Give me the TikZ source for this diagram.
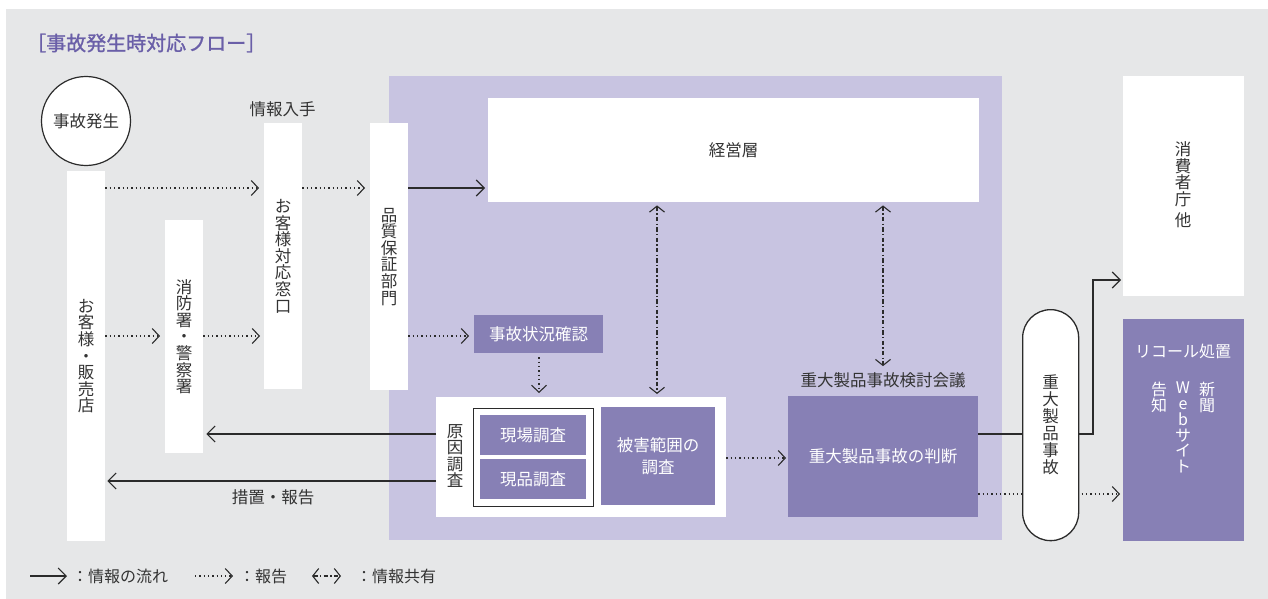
\documentclass[tikz,border=0pt]{standalone}
\usepackage{fontspec}
\setmainfont{Noto Sans CJK JP}
\newfontfamily\ttlfont[FakeBold=1.2]{Noto Sans CJK JP}
\usetikzlibrary{arrows.meta,calc}
\definecolor{bgc}{HTML}{E6E7E8}
\definecolor{lav}{HTML}{C8C4E1}
\definecolor{pur}{HTML}{8780B5}
\definecolor{titlec}{HTML}{6A5FA8}
\definecolor{txt}{HTML}{333333}
\definecolor{ln}{HTML}{2B2B2B}
\tikzset{
  every node/.style={font=\fontsize{16.5}{16.6}\selectfont, text=txt},
  wbox/.style={fill=white, inner sep=0pt, anchor=north west, align=center},
  pbox/.style={fill=pur, inner sep=0pt, anchor=north west, align=center, text=white},
  vtext/.style={align=center, inner sep=0pt},
  flow/.style={draw=ln, line width=1.2pt, -{Straight Barb[length=8pt,width=16pt,line width=1.1pt]}},
  rep/.style={draw=ln, line width=1.3pt, dash pattern=on 1.3pt off 3pt, -{Straight Barb[length=7pt,width=15pt,line width=1.1pt]}},
  share/.style={draw=ln, line width=1.2pt, dash pattern=on 4.5pt off 2.2pt on 1.4pt off 2.2pt, {Straight Barb[length=6pt,width=15pt,line width=1.1pt]}-{Straight Barb[length=6pt,width=15pt,line width=1.1pt]}}
}
\begin{document}
\begin{tikzpicture}[x=1pt,y=-1pt]
\useasboundingbox (0,0) rectangle (1268,599);
\fill[bgc] (6,9) rectangle (1268,599);
\fill[lav] (389,76) rectangle (1002,540);

% title
\node[anchor=west, text=titlec, font=\fontsize{20}{20}\ttlfont, inner sep=0pt] (title) at (26,43) {［事故発生時対応フロー］};

% helper coordinates
\coordinate (ya) at (0,188);
\coordinate (yb) at (0,336);
\coordinate (yc) at (0,434);
\coordinate (yd) at (0,481);
\coordinate (ye) at (0,458);
\coordinate (yf) at (0,494);
\coordinate (yg) at (0,280);
\coordinate (xa) at (539,0);
\coordinate (xb) at (657,0);
\coordinate (xc) at (883,0);
\coordinate (xd) at (1093,0);

% left column
\node[circle, draw=ln, line width=1.2pt, fill=white, minimum size=89pt, inner sep=0pt] (occur) at (86,121) {事故発生};
\node[wbox, minimum width=38pt, minimum height=370pt] (cust) at (67,171) {};
\node[vtext] at (cust.center) {お\\客\\様\\・\\販\\売\\店};
\node[wbox, minimum width=38pt, minimum height=233pt] (fire) at (165,220) {};
\node[vtext] at (fire.center) {消\\防\\署\\・\\警\\察\\署};
\node[wbox, minimum width=38pt, minimum height=266pt] (window) at (264,123) {};
\node[vtext] at (window.center) {お\\客\\様\\対\\応\\窓\\口};
\node[inner sep=0pt] (info) at (282.5,109) {情報入手};
\node[wbox, minimum width=38pt, minimum height=267pt] (qa) at (370,123) {};
\node[vtext] at (qa.center) {品\\質\\保\\証\\部\\門};

% center
\node[wbox, minimum width=491pt, minimum height=104pt] (mgmt) at (488,98) {経営層};
\node[pbox, minimum width=129pt, minimum height=38pt] (situ) at (474,315) {事故状況確認};
\node[wbox, minimum width=290pt, minimum height=120pt] (cont) at (436,397) {};
\node[vtext] (cause) at (455,456) {原\\因\\調\\査};
\node[draw=ln, line width=1.2pt, fill=white, anchor=north west, minimum width=120pt, minimum height=98pt, inner sep=0pt] (inv) at (473,408) {};
\node[pbox, minimum width=106pt, minimum height=40pt] (site) at (480,415) {現場調査};
\node[pbox, minimum width=106pt, minimum height=40pt] (goods) at (480,459) {現品調査};
\node[pbox, minimum width=114pt, minimum height=98pt, font=\fontsize{16.5}{22}\selectfont] (dmg) at (601,407) {被害範囲の\\調査};
\node[inner sep=0pt] (council) at (883,380) {重大製品事故検討会議};
\node[pbox, minimum width=190pt, minimum height=121pt] (judge) at (788,396) {重大製品事故の判断};
\node[inner sep=0pt] (measure) at (273,497) {措置・報告};

% right
\node[wbox, minimum width=121pt, minimum height=220pt] (caa) at (1123,76) {};
\node[vtext] at (1183,185) {消\\費\\者\\庁\\[5pt]他};
\node[pbox, minimum width=121pt, minimum height=222pt] (recall) at (1123,319) {};
\node[inner sep=0pt, text=white, font=\fontsize{16}{16}\selectfont] (recallt) at (1183,351) {リコール処置};
\node[vtext, anchor=north, text=white, font=\fontsize{16}{15.7}\selectfont] (news) at (1207,382) {新\\聞};
\node[vtext, anchor=north, text=white, font=\fontsize{16}{15.7}\selectfont] (web) at (1183,382) {W\\e\\b\\サ\\イ\\ト};
\node[vtext, anchor=north, text=white, font=\fontsize{16}{15.7}\selectfont] (notice) at (1159,382) {告\\知};

% connectors
\draw[rep, shorten >=5pt] (cust.east |- ya) -- (window.west |- ya);
\draw[rep, shorten >=5pt] (window.east |- ya) -- (qa.west |- ya);
\draw[flow, shorten >=3pt] (qa.east |- ya) -- (mgmt.west |- ya);
\draw[rep, shorten >=5pt] (cust.east |- yb) -- (fire.west |- yb);
\draw[rep, shorten >=4pt] (fire.east |- yb) -- (window.west |- yb);
\draw[rep, shorten >=5pt] (qa.east |- yb) -- (situ.west |- yb);
\draw[rep, shorten <=4pt, shorten >=4pt] (situ.south -| xa) -- (cont.north -| xa);
\draw[share, shorten <=3pt, shorten >=3pt] (mgmt.south -| xb) -- (cont.north -| xb);
\draw[share, shorten <=3pt, shorten >=6pt] (mgmt.south -| xc) -- (council.north);
\draw[flow, shorten >=3pt] (cont.west |- yc) -- (fire.east |- yc);
\draw[flow, shorten >=2pt] (cont.west |- yd) -- (cust.east |- yd);
\draw[rep, shorten >=2pt] (cont.east |- ye) -- (judge.west |- ye);
\draw[flow, shorten >=2pt] (judge.east |- yc) -- (xd |- yc) -- (xd |- yg) -- (caa.west |- yg);
\draw[rep, shorten >=3pt] (judge.east |- yf) -- (recall.west |- yf);
\node[draw=ln, line width=1.3pt, fill=white, rounded corners=28pt, anchor=north west, minimum width=56pt, minimum height=231pt, inner sep=0pt] (serious) at (1022,309) {};
\node[vtext, font=\fontsize{16.5}{17}\selectfont] at (serious.center) {重\\大\\製\\品\\事\\故};

% legend
\coordinate (la1) at (30,576);
\coordinate (la2) at (67,576);
\draw[flow] (la1) -- (la2);
\node[anchor=west, inner sep=0pt, font=\fontsize{16}{16}\selectfont] (lt1) at (72,576) {：情報の流れ};
\coordinate (lb1) at (195,576);
\coordinate (lb2) at (233,576);
\draw[rep] (lb1) -- (lb2);
\node[anchor=west, inner sep=0pt, font=\fontsize{16}{16}\selectfont] (lt2) at (239,576) {：報告};
\coordinate (lc1) at (312,576);
\coordinate (lc2) at (341,576);
\draw[share] (lc1) -- (lc2);
\node[anchor=west, inner sep=0pt, font=\fontsize{16}{16}\selectfont] (lt3) at (356,576) {：情報共有};
\end{tikzpicture}
\end{document}
